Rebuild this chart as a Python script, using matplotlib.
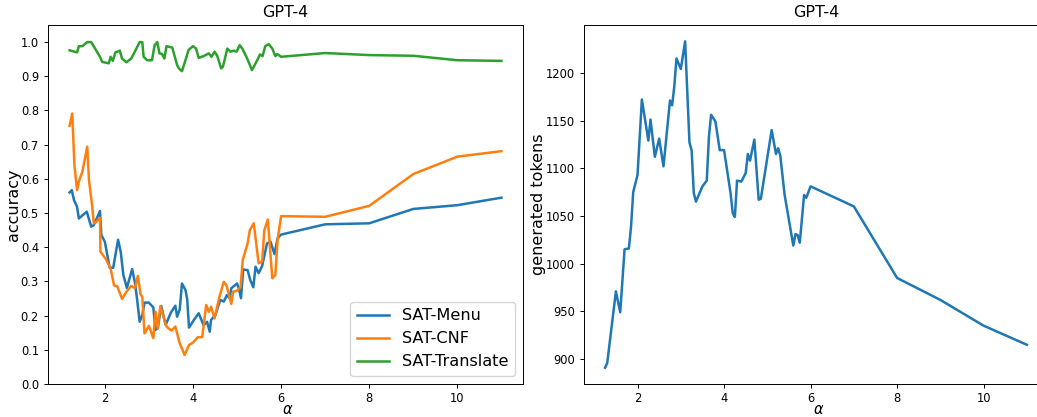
import matplotlib
matplotlib.use("Agg")
import matplotlib.pyplot as plt

# ---- data ----
alpha_menu = [1.2, 1.25, 1.3, 1.37, 1.41, 1.5, 1.59, 1.69, 1.75, 1.89, 1.92, 2.0, 2.11, 2.19, 2.3,
              2.36, 2.42, 2.5, 2.62, 2.68, 2.73, 2.79, 2.85, 2.9, 3.0, 3.1, 3.15, 3.2, 3.28, 3.38,
              3.5, 3.6, 3.64, 3.7, 3.75, 3.83, 3.87, 3.91, 4.02, 4.13, 4.24, 4.32, 4.38, 4.41, 4.51,
              4.58, 4.62, 4.7, 4.77, 4.83, 4.87, 5.0, 5.04, 5.09, 5.14, 5.24, 5.3, 5.37, 5.42, 5.49,
              5.57, 5.68, 5.76, 5.85, 5.92, 6, 7, 8, 9, 10, 11]
acc_menu = [0.560, 0.567, 0.538, 0.518, 0.484, 0.494, 0.504, 0.460, 0.465, 0.506, 0.436, 0.416,
            0.340, 0.340, 0.422, 0.387, 0.319, 0.281, 0.336, 0.299, 0.250, 0.182, 0.202, 0.238,
            0.238, 0.224, 0.158, 0.163, 0.228, 0.173, 0.209, 0.229, 0.197, 0.218, 0.294, 0.275,
            0.247, 0.165, 0.187, 0.207, 0.172, 0.182, 0.153, 0.187, 0.202, 0.231, 0.246, 0.241,
            0.260, 0.251, 0.280, 0.294, 0.280, 0.251, 0.335, 0.333, 0.304, 0.283, 0.343, 0.324,
            0.345, 0.411, 0.416, 0.380, 0.426, 0.437, 0.467, 0.470, 0.512, 0.523, 0.545]

alpha_cnf = [1.2, 1.26, 1.31, 1.37, 1.41, 1.49, 1.6, 1.64, 1.71, 1.75, 1.81, 1.89, 1.9, 2.02, 2.13,
             2.21, 2.28, 2.39, 2.49, 2.6, 2.68, 2.75, 2.81, 2.85, 2.9, 3.0, 3.1, 3.15, 3.2, 3.26,
             3.34, 3.4, 3.51, 3.6, 3.7, 3.81, 3.91, 4.0, 4.11, 4.21, 4.3, 4.36, 4.41, 4.49, 4.6,
             4.7, 4.76, 4.87, 4.91, 5.0, 5.08, 5.13, 5.24, 5.29, 5.38, 5.49, 5.57, 5.62, 5.7, 5.8,
             5.87, 5.92, 6, 7, 8, 9, 10, 11]
acc_cnf = [0.755, 0.791, 0.640, 0.567, 0.592, 0.621, 0.694, 0.596, 0.523, 0.470, 0.475, 0.486,
           0.387, 0.366, 0.338, 0.288, 0.286, 0.249, 0.270, 0.287, 0.280, 0.316, 0.262, 0.255,
           0.148, 0.170, 0.134, 0.211, 0.163, 0.228, 0.192, 0.168, 0.156, 0.168, 0.119, 0.085,
           0.114, 0.121, 0.137, 0.137, 0.231, 0.211, 0.226, 0.192, 0.255, 0.299, 0.289, 0.234,
           0.270, 0.273, 0.283, 0.363, 0.411, 0.450, 0.470, 0.353, 0.358, 0.450, 0.481, 0.309,
           0.319, 0.421, 0.491, 0.489, 0.521, 0.614, 0.665, 0.681]

alpha_translate = [1.2, 1.31, 1.37, 1.41, 1.49, 1.6, 1.69, 1.89, 1.94, 2.09, 2.13, 2.18, 2.24, 2.34,
                   2.39, 2.49, 2.6, 2.7, 2.79, 2.85, 2.88, 2.96, 3.07, 3.13, 3.19, 3.24, 3.3, 3.35,
                   3.4, 3.53, 3.64, 3.68, 3.75, 3.83, 3.9, 4.0, 4.07, 4.13, 4.24, 4.36, 4.42, 4.49,
                   4.55, 4.64, 4.68, 4.78, 4.85, 4.93, 4.99, 5.06, 5.12, 5.23, 5.34, 5.4, 5.47,
                   5.52, 5.58, 5.64, 5.72, 5.8, 5.87, 5.91, 6, 7, 8, 9, 10, 11]
acc_translate = [0.976, 0.972, 0.970, 0.988, 0.988, 1.0, 1.0, 0.957, 0.942, 0.938, 0.957, 0.945,
                 0.970, 0.975, 0.952, 0.941, 0.952, 0.977, 1.0, 1.0, 0.957, 0.947, 0.947, 0.991,
                 1.0, 0.967, 0.965, 0.952, 0.988, 0.984, 0.933, 0.923, 0.915, 0.947, 0.977, 0.988,
                 0.981, 0.954, 0.959, 0.967, 0.957, 0.972, 0.960, 0.923, 0.928, 0.981, 0.972,
                 0.975, 0.972, 0.991, 0.981, 0.952, 0.918, 0.933, 0.950, 0.964, 0.959, 0.988,
                 0.994, 0.981, 0.959, 0.965, 0.957, 0.968, 0.962, 0.960, 0.947, 0.945]

alpha_tok = [1.25, 1.3, 1.5, 1.6, 1.7, 1.8, 1.85, 1.9, 2.0, 2.1, 2.25, 2.3, 2.4, 2.5, 2.6, 2.75,
             2.8, 2.85, 2.9, 3.0, 3.1, 3.2, 3.25, 3.3, 3.35, 3.5, 3.6, 3.65, 3.7, 3.8, 3.9, 4.0,
             4.15, 4.2, 4.25, 4.3, 4.4, 4.5, 4.55, 4.6, 4.7, 4.8, 4.85, 5.1, 5.2, 5.25, 5.3, 5.4,
             5.6, 5.65, 5.7, 5.75, 5.85, 5.9, 6, 7, 8, 9, 10, 11]
tokens = [891, 896, 971, 949, 1015, 1016, 1039, 1075, 1093, 1172, 1129, 1151, 1112, 1131, 1102,
          1171, 1166, 1186, 1215, 1204, 1233, 1127, 1119, 1074, 1065, 1081, 1087, 1133, 1156,
          1149, 1119, 1119, 1074, 1053, 1049, 1087, 1086, 1095, 1115, 1108, 1130, 1067, 1068,
          1140, 1115, 1121, 1113, 1072, 1019, 1031, 1030, 1022, 1072, 1069, 1081, 1060, 985,
          962, 935, 915]

TICK_FS = 8.3
LABEL_FS = 11.5
XLABEL_FS = 10.5
LEGEND_FS = 11.6
TITLE_FS = 11.5
LW = 1.8

fig = plt.figure(figsize=(10.37, 4.17), dpi=100)
ax1 = fig.add_axes([48 / 1037, 1 - 384 / 417, (523 - 48) / 1037, (384 - 25) / 417])
ax2 = fig.add_axes([584 / 1037, 1 - 384 / 417, (1048 - 584) / 1037, (384 - 25) / 417])

ax1.plot(alpha_menu, acc_menu, color="#1f77b4", lw=LW, label="SAT-Menu")
ax1.plot(alpha_cnf, acc_cnf, color="#ff7f0e", lw=LW, label="SAT-CNF")
ax1.plot(alpha_translate, acc_translate, color="#2ca02c", lw=LW, label="SAT-Translate")
ax1.set_ylim(0, 1.05)
ax1.set_yticks([i / 10 for i in range(11)])
ax1.set_xticks([2, 4, 6, 8, 10])
ax1.set_title("GPT-4", fontsize=TITLE_FS)
ax1.set_xlabel(r"$\alpha$", fontsize=XLABEL_FS, va="bottom")
ax1.set_ylabel("accuracy", fontsize=LABEL_FS, labelpad=0)
ax1.legend(loc="lower right", fontsize=LEGEND_FS)

ax2.plot(alpha_tok, tokens, color="#1f77b4", lw=LW)
ax2.set_xticks([2, 4, 6, 8, 10])
ax2.set_yticks([900, 950, 1000, 1050, 1100, 1150, 1200])
ax2.set_title("GPT-4", fontsize=TITLE_FS)
ax2.set_xlabel(r"$\alpha$", fontsize=XLABEL_FS, va="bottom")
ax2.set_ylabel("generated tokens", fontsize=LABEL_FS, labelpad=0)

for ax in (ax1, ax2):
    ax.tick_params(labelsize=TICK_FS, width=0.7, length=3)
    ax.tick_params(axis="x", pad=2.5)
    ax.xaxis.set_label_coords(0.505, -(416.8 - 384) / 359)
    for s in ax.spines.values():
        s.set_linewidth(0.7)

fig.savefig("out.png", dpi=100)
